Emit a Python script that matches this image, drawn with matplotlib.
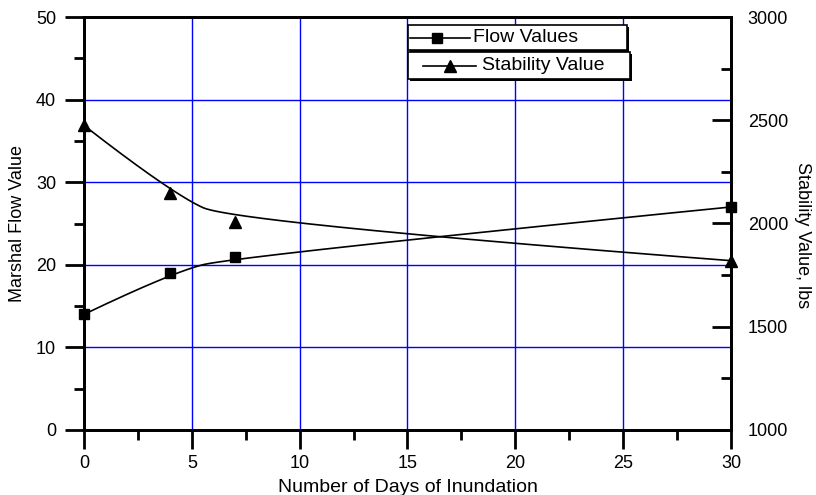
import numpy as np
import matplotlib
matplotlib.use("Agg")
import matplotlib.pyplot as plt
from matplotlib.lines import Line2D
from matplotlib.patches import Rectangle
from matplotlib.ticker import MultipleLocator

plt.rcParams['font.family'] = ['Liberation Sans', 'DejaVu Sans']

#### data
days = [0, 4, 7, 30]
flow_values = [14.0, 19.0, 21.0, 27.0]              # Marshal flow value (left axis)
stability_values = [2475, 2150, 2005, 1820]         # stability, lbs (right axis)
legend_labels = ["Flow Values", "Stability Value"]

W, H = 816, 495


#### Origin style B-spline: the points act as control points (clamped, quadratic)
def bspline(xs, ys, k=2, n=300):
    xs = np.asarray(xs, float)
    ys = np.asarray(ys, float)
    m = len(xs)
    knots = np.concatenate([[0.0] * k, np.linspace(0, 1, m - k + 1), [1.0] * k])
    t = np.linspace(0, 1 - 1e-9, n)

    def basis(i, p):
        if p == 0:
            return ((knots[i] <= t) & (t < knots[i + 1])).astype(float)
        out = np.zeros_like(t)
        d1 = knots[i + p] - knots[i]
        d2 = knots[i + p + 1] - knots[i + 1]
        if d1 > 0:
            out += (t - knots[i]) / d1 * basis(i, p - 1)
        if d2 > 0:
            out += (knots[i + p + 1] - t) / d2 * basis(i + 1, p - 1)
        return out

    B = np.array([basis(i, k) for i in range(m)])
    return B.T @ xs, B.T @ ys


### pixel (from top-left) -> figure fraction
def px(x, y):
    return x / W, 1 - y / H


fig = plt.figure(figsize=(W / 100, H / 100), dpi=100)
ax = fig.add_axes([84 / W, 65 / H, (731 - 84) / W, (430 - 17) / H])
ax2 = ax.twinx()

#### curves + markers
fx, fy = bspline(days, flow_values)
ax.plot(fx, fy, color='black', lw=1.2, zorder=3)
ax.plot(days, flow_values, ls='none', marker='s', ms=7, color='black', zorder=4, clip_on=False)

sx, sy = bspline(days, stability_values)
ax2.plot(sx, sy, color='black', lw=1.2, zorder=3)
ax2.plot(days, stability_values, ls='none', marker='^', ms=8, color='black', zorder=4, clip_on=False)

#### axes ranges and ticks
ax.set_xlim(0, 30)
ax.set_ylim(0, 50)
ax2.set_ylim(1000, 3000)
ax.xaxis.set_major_locator(MultipleLocator(5))
ax.xaxis.set_minor_locator(MultipleLocator(2.5))
ax.yaxis.set_major_locator(MultipleLocator(10))
ax.yaxis.set_minor_locator(MultipleLocator(5))
ax2.yaxis.set_major_locator(MultipleLocator(500))
ax2.yaxis.set_minor_locator(MultipleLocator(250))

fs = 13
ax.tick_params(axis='both', which='major', direction='out', length=14, width=2, labelsize=fs)
ax.tick_params(axis='both', which='minor', direction='out', length=7, width=2)
ax.tick_params(axis='x', which='major', pad=4)
ax.tick_params(axis='y', which='major', pad=6)
ax.tick_params(axis='x', top=False, which='both')
ax2.tick_params(axis='y', which='major', direction='in', length=14, width=2, labelsize=fs, pad=12)
ax2.tick_params(axis='y', which='minor', direction='in', length=7, width=2)

for a in (ax, ax2):
    for sp in a.spines.values():
        sp.set_linewidth(2)

ax.grid(True, which='major', color='blue', lw=1)
ax.set_axisbelow(True)

#### axis titles placed where the reference has them
ax.set_xlabel("Number of Days of Inundation", fontsize=14, va='center')
ax.xaxis.set_label_coords(0.5, (430 - 487) / 413)
ax.set_ylabel("Marshal Flow Value", fontsize=fs, va='center')
ax.yaxis.set_label_coords((17 - 84) / 647, 0.5)
ax2.set_ylabel("Stability Value, lbs", fontsize=fs, rotation=270, va='center')
ax2.yaxis.set_label_coords((803 - 84) / 647, (430 - 235) / 413)

#### two separate legend boxes, Origin style (drawn by hand)
boxes = [(408, 25, 627, 50), (408, 52, 630, 79)]
handles = [(410, 470, 437, 's', 7), (423, 476, 450, '^', 8)]
text_x = [473, 482]
for (x0, y0, x1, y1), (hx0, hx1, mx, mk, ms), tx, lab in zip(boxes, handles, text_x, legend_labels):
    fig.patches.append(Rectangle(px(x0 + 2, y1 + 2), (x1 - x0) / W, (y1 - y0) / H,
                                 transform=fig.transFigure, facecolor='black', edgecolor='none', zorder=5))
    fig.patches.append(Rectangle(px(x0, y1), (x1 - x0) / W, (y1 - y0) / H,
                                 transform=fig.transFigure, facecolor='white', edgecolor='black',
                                 lw=1.2, zorder=6))
    yc = (y0 + y1) / 2
    fig.lines.append(Line2D([hx0 / W, hx1 / W], [1 - yc / H] * 2, transform=fig.transFigure,
                            color='black', lw=1.2, zorder=7))
    fig.lines.append(Line2D([mx / W], [1 - yc / H], transform=fig.transFigure, color='black',
                            marker=mk, ms=ms, zorder=8))
    fig.text(tx / W, 1 - yc / H, lab, fontsize=14, ha='left', va='center', zorder=9)

fig.savefig("out.png", dpi=100)
